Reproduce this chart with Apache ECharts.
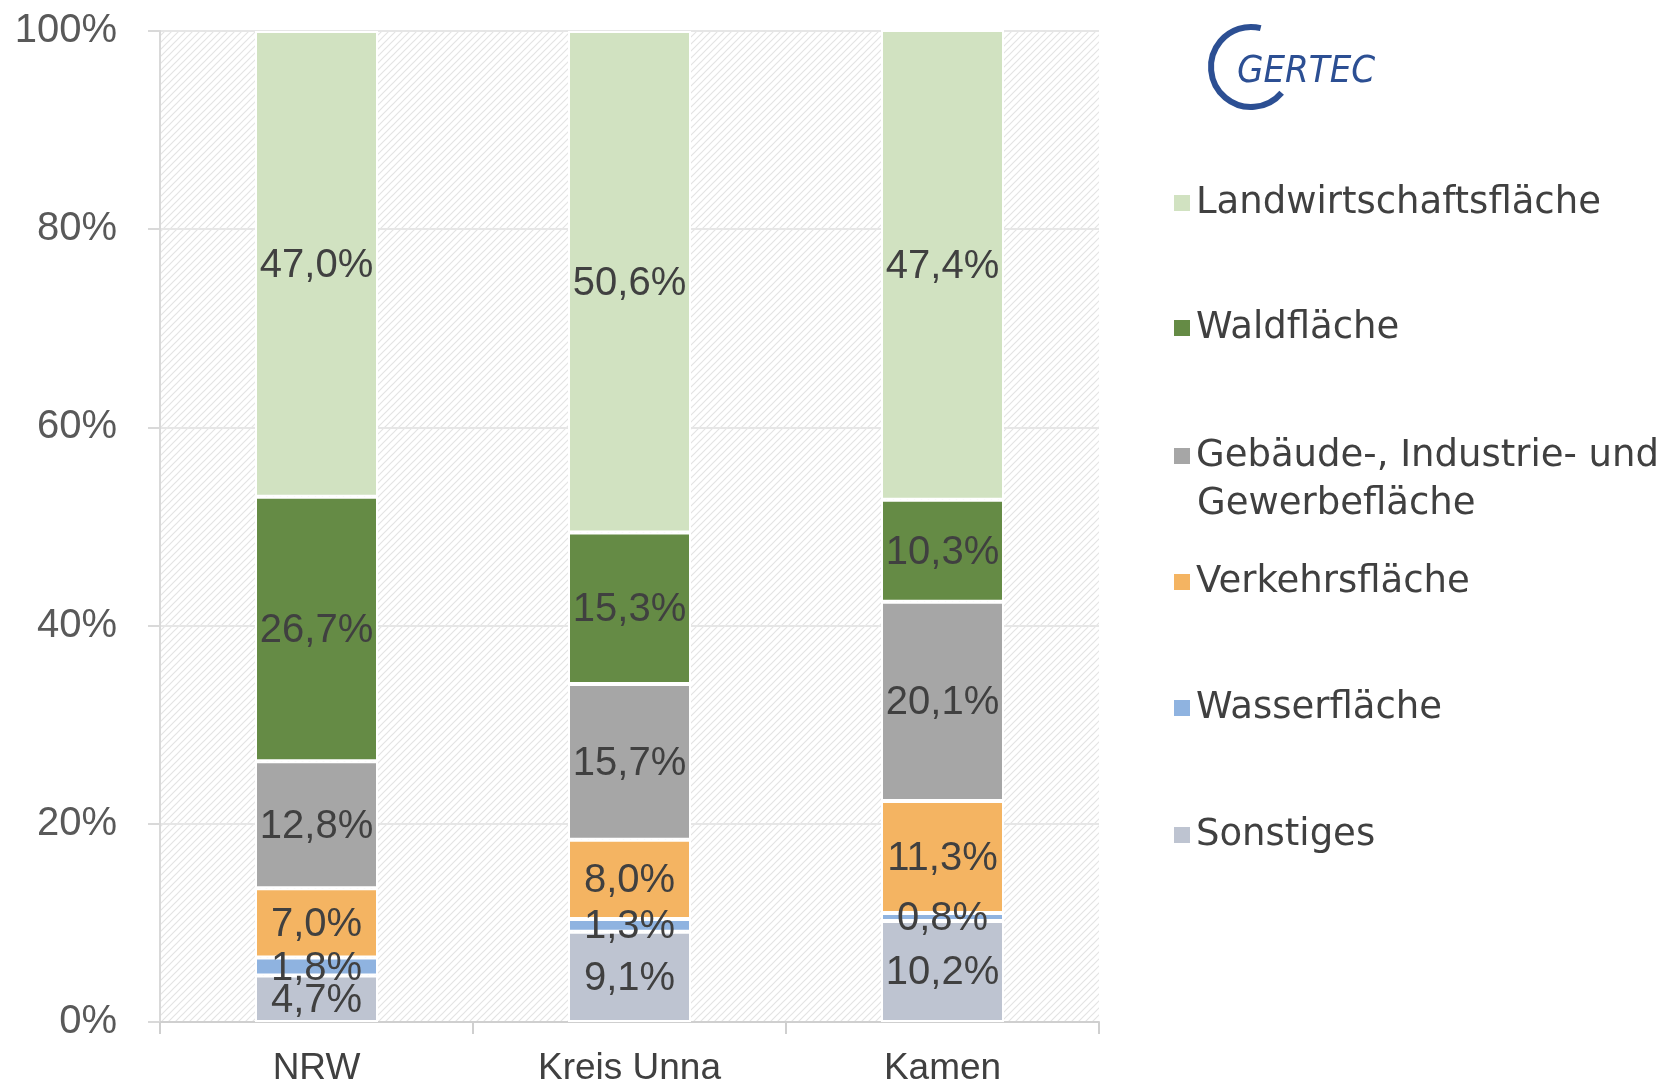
<!DOCTYPE html>
<html>
<head>
<meta charset="utf-8">
<script src="https://cdn.jsdelivr.net/npm/echarts@6/dist/echarts.min.js"></script>
<style>html,body{margin:0;padding:0;background:#fff;}#c{width:1673px;height:1084px;}</style>
</head>
<body>
<div id="c"></div>
<script>
var categories = ['NRW', 'Kreis Unna', 'Kamen'];
var seriesNames = ['Landwirtschaftsfläche', 'Waldfläche', 'Gebäude-, Industrie- und Gewerbefläche', 'Verkehrsfläche', 'Wasserfläche', 'Sonstiges'];
var sonstiges = [4.7, 9.1, 10.2];
var wasser = [1.8, 1.3, 0.8];
var verkehr = [7.0, 8.0, 11.3];
var gebaeude = [12.8, 15.7, 20.1];
var wald = [26.7, 15.3, 10.3];
var landwirtschaft = [47.0, 50.6, 47.4];
var yMin = 0, yMax = 100, yStep = 20;

var colors = {
  'Landwirtschaftsfläche': '#d1e2c1',
  'Waldfläche': '#658b45',
  'Gebäude-, Industrie- und Gewerbefläche': '#a6a6a6',
  'Verkehrsfläche': '#f4b462',
  'Wasserfläche': '#8fb3e0',
  'Sonstiges': '#bec4d1'
};

// hatch pattern for plot background
var p = 7;
var cv = document.createElement('canvas');
cv.width = p; cv.height = p;
var cx = cv.getContext('2d');
cx.fillStyle = '#ffffff'; cx.fillRect(0, 0, p, p);
cx.strokeStyle = '#e4e4e4'; cx.lineWidth = 1.2;
cx.beginPath();
cx.moveTo(0, p); cx.lineTo(p, 0);
cx.moveTo(-1, 1); cx.lineTo(1, -1);
cx.moveTo(p - 1, p + 1); cx.lineTo(p + 1, p - 1);
cx.stroke();

var chart = echarts.init(document.getElementById('c'), null, {renderer: 'canvas'});
var font = 'Liberation Sans, Arial, sans-serif';
var legendFont = 'DejaVu Sans, Liberation Sans, sans-serif';

function fmt(v) { return v.toFixed(1).replace('.', ',') + '%'; }

function mkSeries(name, data) {
  return {
    name: name, type: 'bar', stack: 'total', data: data,
    barWidth: 123,
    itemStyle: {color: colors[name], borderColor: '#ffffff', borderWidth: 2},
    label: {
      show: true, position: 'inside', color: '#404040', offset: [0, 2],
      fontFamily: font, fontSize: 40,
      formatter: function (pr) { return fmt(pr.value); }
    }
  };
}

var legendCenters = [203, 328, 456, 582, 708, 835];
var legends = seriesNames.map(function (n, i) {
  return {
    data: [n], orient: 'vertical', left: 1172, top: legendCenters[i] - 22,
    padding: 0, itemWidth: 18, itemHeight: 18, icon: 'rect',
    formatter: function (name) { return name === seriesNames[2] ? 'Gebäude-, Industrie- und' : name; },
    textStyle: {fontFamily: legendFont, fontSize: 37, color: '#404040', lineHeight: 44},
    selectedMode: false
  };
});

var option = {
  backgroundColor: '#ffffff',
  animation: false,
  grid: {left: 160, top: 31, width: 939, bottom: 62, show: true, borderWidth: 0,
         outerBoundsMode: 'none', containLabel: false,
         backgroundColor: {image: cv, repeat: 'repeat'}},
  legend: legends,
  xAxis: {
    type: 'category', data: categories,
    axisLine: {lineStyle: {color: '#cfcfcf', width: 2}},
    axisTick: {show: true, length: 12, lineStyle: {color: '#cfcfcf', width: 2}},
    axisLabel: {fontFamily: font, fontSize: 37, color: '#404040', margin: 28}
  },
  yAxis: {
    type: 'value', min: yMin, max: yMax, interval: yStep,
    axisLine: {show: true, lineStyle: {color: '#d9d9d9', width: 2}},
    axisTick: {show: true, length: 12, lineStyle: {color: '#d9d9d9', width: 2}},
    splitLine: {lineStyle: {color: '#e6e6e6', width: 2}},
    axisLabel: {fontFamily: font, fontSize: 40, color: '#595959', margin: 43,
                formatter: function (v) { return v + '%'; }}
  },
  series: [
    mkSeries('Sonstiges', sonstiges),
    mkSeries('Wasserfläche', wasser),
    mkSeries('Verkehrsfläche', verkehr),
    mkSeries('Gebäude-, Industrie- und Gewerbefläche', gebaeude),
    mkSeries('Waldfläche', wald),
    mkSeries('Landwirtschaftsfläche', landwirtschaft)
  ],
  graphic: [
    {type: 'text', left: 1197, top: 486,
     style: {text: 'Gewerbefläche', font: '37px ' + legendFont, fill: '#404040'}},
    {type: 'arc', shape: {cx: 1251, cy: 67, r: 40, startAngle: 40 * Math.PI / 180, endAngle: 284 * Math.PI / 180, clockwise: true},
     style: {stroke: '#2c4f93', lineWidth: 6, fill: null}},
    {type: 'text', x: 1237, y: 72,
     style: {text: 'GERTEC', font: 'italic 38px "Liberation Sans Narrow", "DejaVu Sans Condensed", "Liberation Sans"', fill: '#2c4f93', textVerticalAlign: 'middle', verticalAlign: 'middle'}}
  ]
};
chart.setOption(option);
</script>
</body>
</html>
